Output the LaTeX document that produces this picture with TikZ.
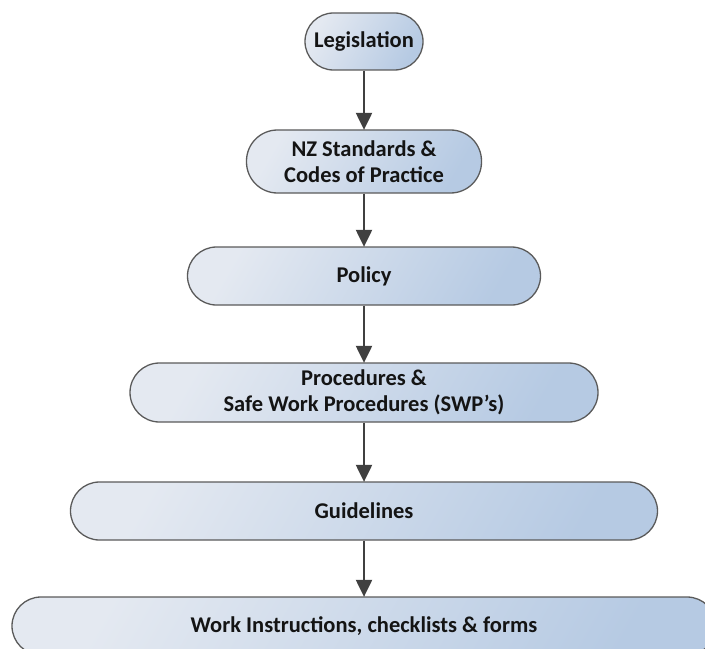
\documentclass[tikz,border=0pt]{standalone}
\usepackage{fontspec}
\setmainfont{Carlito}
\usetikzlibrary{arrows.meta}
\definecolor{boxlight}{HTML}{E4E9F1}
\definecolor{boxdark}{HTML}{B6CAE3}
\definecolor{boxborder}{HTML}{5A5A5A}
\definecolor{arrowgray}{HTML}{404040}
\definecolor{txt}{HTML}{141414}
\tikzset{
  stadium/.style={draw=boxborder, line width=1.3bp, left color=boxlight, right color=boxdark,
    shading angle=60, rectangle, inner sep=0pt, align=center, text=txt,
    font=\fontsize{22.5bp}{26bp}\selectfont\bfseries},
  flowarrow/.style={draw=arrowgray, line width=2.2bp, -{Triangle[width=16bp,length=17bp]}, shorten >=-0.5bp}
}
\begin{document}
\begin{tikzpicture}[x=1bp,y=-1bp]
\useasboundingbox (0,0) rectangle (705,649);
\clip (0,0) rectangle (705,649);
\node[stadium, minimum width=118bp, minimum height=57bp, rounded corners=28.5bp] (leg) at (364,41.5) {Legislation};
\node[stadium, minimum width=235bp, minimum height=63bp, rounded corners=31bp] (nz) at (364,161.5) {NZ Standards \&\\Codes of Practice};
\node[stadium, minimum width=353bp, minimum height=58bp, rounded corners=29bp] (pol) at (364,276) {Policy};
\node[stadium, minimum width=468bp, minimum height=59bp, rounded corners=29.5bp] (proc) at (364,392.5) {Procedures \&\\Safe Work Procedures (SWP’s)};
\node[stadium, minimum width=587bp, minimum height=58bp, rounded corners=29bp] (guide) at (364,511) {Guidelines};
\node[stadium, minimum width=704bp, minimum height=58bp, rounded corners=29bp] (work) at (364,626) {Work Instructions, checklists \& forms};
\draw[flowarrow] (leg.south) -- (nz.north);
\draw[flowarrow] (nz.south) -- (pol.north);
\draw[flowarrow] (pol.south) -- (proc.north);
\draw[flowarrow] (proc.south) -- (guide.north);
\draw[flowarrow] (guide.south) -- (work.north);
\end{tikzpicture}
\end{document}
